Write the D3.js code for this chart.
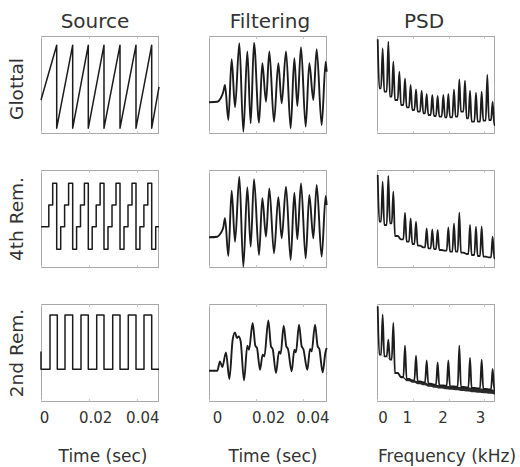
<!DOCTYPE html>
<html><head><meta charset="utf-8">
<script src="https://cdn.jsdelivr.net/npm/d3@7"></script>
<style>
html,body{margin:0;padding:0;background:#fff;}
svg{display:block;}
</style></head><body>
<svg id="chart" width="520" height="467"></svg>
<script>
// ---------------- DATA ----------------
const columnTitles = ["Source", "Filtering", "PSD"];
const rowLabels = ["Glottal", "4th Rem.", "2nd Rem."];
const xAxisTitles = ["Time (sec)", "Time (sec)", "Frequency (kHz)"];
const timeTicks = [0, 0.02, 0.04];
const timeTickLabels = ["0", "0.02", "0.04"];
const freqTicks = [0, 1, 2, 3];
const freqTickLabels = ["0", "1", "2", "3"];

// Source signals (time in s, amplitude normalised to [-1, 1])
const glottalT = [0, 0.00652, 0.00652, 0.01316, 0.01316, 0.01964, 0.01964, 0.02616, 0.02616, 0.03281, 0.03281, 0.03945, 0.03945, 0.04597, 0.04597, 0.049];
const glottalV = [-0.32, 0.81, -0.90, 0.81, -0.90, 0.81, -0.90, 0.81, -0.90, 0.81, -0.90, 0.81, -0.90, 0.81, -0.90, -0.05];

const rem4T = [0, 0.00324, 0.00486, 0.00652, 0.00818, 0.00980, 0.01146, 0.01316, 0.01478, 0.01640, 0.01802, 0.01964, 0.02126, 0.02292, 0.02454, 0.02616, 0.02782, 0.02949, 0.03115, 0.03281, 0.03447, 0.03613, 0.03779, 0.03945, 0.04107, 0.04273, 0.04435, 0.04597, 0.04763, 0.049];
const rem4V = [-0.169, 0.278, 0.726, -0.635, -0.169, 0.278, 0.726, -0.635, -0.169, 0.278, 0.726, -0.635, -0.169, 0.278, 0.726, -0.635, -0.169, 0.278, 0.726, -0.635, -0.169, 0.278, 0.726, -0.635, -0.169, 0.278, 0.726, -0.635, -0.169, -0.169];

const rem2T = [0, 0, 0.00374, 0.00677, 0.00997, 0.01316, 0.01661, 0.01964, 0.02313, 0.02616, 0.02978, 0.03281, 0.03625, 0.03945, 0.04277, 0.04597, 0.049];
const rem2V = [0.02, -0.346, 0.773, -0.346, 0.773, -0.346, 0.773, -0.346, 0.773, -0.346, 0.773, -0.346, 0.773, -0.346, 0.773, -0.346, -0.346];

// Filtered signals
const filterT = [0, 0.00353, 0.00494, 0.00607, 0.00678, 0.00819, 0.00960, 0.01102, 0.01285, 0.01455, 0.01624, 0.01766, 0.01907, 0.02119, 0.02260, 0.02415, 0.02556, 0.02754, 0.02938, 0.03079, 0.03263, 0.03460, 0.03616, 0.03743, 0.03898, 0.04096, 0.04251, 0.04421, 0.04562, 0.04774, 0.04944, 0.04986];
const filterGlottal = [-0.367, -0.355, -0.285, -0.148, -0.010, -0.732, 0.520, -0.470, 0.850, -0.973, 0.680, -0.800, 0.860, -0.787, 0.437, -0.355, 0.680, -0.767, 0.437, -0.388, 0.680, -0.903, 0.540, -0.443, 0.767, -0.870, 0.437, -0.320, 0.726, -0.835, 0.470, 0.264];
const filter4th = [-0.388, -0.375, -0.306, -0.182, 0.004, -0.773, 0.574, -0.478, 0.862, -0.993, 0.643, -0.581, 0.808, -0.753, 0.416, -0.375, 0.622, -0.718, 0.437, -0.409, 0.656, -0.856, 0.532, -0.429, 0.725, -0.821, 0.485, -0.409, 0.691, -0.787, 0.464, 0.278];

const filter2ndT = [0, 0.00353, 0.00466, 0.00565, 0.00720, 0.00862, 0.01003, 0.01102, 0.01186, 0.01257, 0.01342, 0.01483, 0.01624, 0.01695, 0.01850, 0.01963, 0.02034, 0.02161, 0.02274, 0.02345, 0.02514, 0.02627, 0.02698, 0.02839, 0.02966, 0.03037, 0.03164, 0.03277, 0.03347, 0.03503, 0.03616, 0.03686, 0.03814, 0.03927, 0.03997, 0.04167, 0.04280, 0.04350, 0.04492, 0.04605, 0.04675, 0.04816, 0.04929, 0.04986];
const filter2nd = [-0.375, -0.375, -0.183, -0.300, 0.003, -0.547, 0.264, 0.415, 0.298, 0.333, 0.229, -0.575, 0.140, 0.058, 0.608, 0.140, 0.092, -0.355, -0.045, -0.080, 0.662, 0.126, 0.072, -0.423, 0.023, -0.025, 0.553, 0.126, 0.072, -0.389, 0.058, 0.003, 0.573, 0.126, 0.072, -0.355, 0.072, 0.023, 0.573, 0.126, 0.072, -0.410, -0.011, 0.092];

// PSD: harmonic frequencies (kHz), peak levels (null = harmonic absent) and floor levels after each harmonic
const psdFreq = [0.02, 0.158, 0.317, 0.457, 0.625, 0.783, 0.941, 1.091, 1.249, 1.389, 1.547, 1.696, 1.855, 1.995, 2.153, 2.302, 2.461, 2.601, 2.768, 2.927, 3.085, 3.234];
const psdGlottalPeak = [0.931, 0.746, 0.883, 0.471, 0.265, 0.127, -0.010, -0.100, -0.127, -0.196, -0.216, -0.237, -0.216, -0.196, -0.100, 0.107, 0.079, -0.127, -0.168, -0.148, 0.196, -0.354];
const psdGlottalFloor = [-0.079, -0.148, -0.251, -0.320, -0.423, -0.471, -0.526, -0.560, -0.595, -0.629, -0.649, -0.663, -0.677, -0.677, -0.663, -0.560, -0.698, -0.766, -0.766, -0.746, -0.732, -0.835];
const psd4thPeak = [0.897, 0.759, 0.876, 0.553, null, 0.120, 0.003, -0.065, null, -0.203, -0.223, -0.237, null, -0.182, -0.100, 0.120, null, -0.134, -0.168, -0.168, null, -0.375];
const psd4thFloor = [-0.065, -0.134, -0.100, -0.361, -0.430, -0.478, -0.526, -0.560, -0.595, -0.615, -0.629, -0.649, -0.663, -0.684, -0.684, -0.704, -0.732, -0.753, -0.773, -0.787, -0.801, -0.821];
const psd2ndPeak = [0.952, 0.780, 0.265, 0.608, null, 0.141, null, -0.065, null, -0.162, null, -0.203, null, -0.162, null, 0.141, null, -0.113, null, -0.148, null, -0.340];
const psd2ndFloor = [-0.045, -0.079, -0.148, -0.423, -0.505, -0.546, -0.574, -0.595, -0.615, -0.643, -0.663, -0.677, -0.684, -0.698, -0.704, -0.711, -0.718, -0.732, -0.739, -0.753, -0.759, -0.766];
const psd2ndFloorLow = [-0.053, -0.088, -0.157, -0.445, -0.532, -0.591, -0.623, -0.653, -0.677, -0.705, -0.725, -0.744, -0.756, -0.770, -0.780, -0.792, -0.803, -0.817, -0.828, -0.842, -0.853, -0.865];

// ---------------- LAYOUT ----------------
const colX = [41, 209, 377], rowY = [36, 170, 304];
const W = 118, H = 97;
const FONT = "'DejaVu Sans', sans-serif";
const TEXT = "#333", INK = "#1c1c1c", FRAME = "#a8a8a8";

const svg = d3.select("#chart");

const sourceX = d3.scaleLinear().domain([0, 0.049]).range([0, W]);
const filterX = d3.scaleLinear().domain([0, 0.05]).range([0, W]);
const FMAX = 3.3;
const freqX = d3.scaleLinear().domain([0, FMAX]).range([0, W]);
const y = d3.scaleLinear().domain([-1, 1]).range([H, 0]);

const xScales = [sourceX, filterX, freqX];
const xTicks = [timeTicks, timeTicks, freqTicks];
const xLabels = [timeTickLabels, timeTickLabels, freqTickLabels];
const labelShift = [[3, 6, 5], [8, 12, 9], [5.5, -6, -6, -4.3]];

const zip = (a, b) => a.map((v, i) => [v, b[i]]);
const hw = 0.045;
function psdPoints(peaks, floors) {
  const pts = [];
  psdFreq.forEach((f, k) => {
    if (peaks[k] !== null) pts.push([f, peaks[k]]);
    const next = k < psdFreq.length - 1 ? psdFreq[k + 1] - hw : FMAX;
    pts.push([f + hw, floors[k]]);
    pts.push([next, floors[k]]);
  });
  return pts;
}
function bandPoints(up, low) {
  const pts = [];
  psdFreq.forEach((f, k) => {
    const next = k < psdFreq.length - 1 ? psdFreq[k + 1] - hw : FMAX;
    pts.push([f + hw, up[k], low[k]]);
    pts.push([next, up[k], low[k]]);
  });
  return pts;
}

const series = [
  [ {pts: zip(glottalT, glottalV), curve: d3.curveLinear, w: 1.5},
    {pts: zip(filterT, filterGlottal), curve: d3.curveMonotoneX, w: 1.9},
    {pts: psdPoints(psdGlottalPeak, psdGlottalFloor), curve: d3.curveMonotoneX, w: 1.8} ],
  [ {pts: zip(rem4T, rem4V), curve: d3.curveStepAfter, w: 1.5},
    {pts: zip(filterT, filter4th), curve: d3.curveMonotoneX, w: 1.9},
    {pts: psdPoints(psd4thPeak, psd4thFloor), curve: d3.curveMonotoneX, w: 1.8} ],
  [ {pts: zip(rem2T, rem2V), curve: d3.curveStepAfter, w: 1.5},
    {pts: zip(filter2ndT, filter2nd), curve: d3.curveMonotoneX, w: 1.9},
    {pts: psdPoints(psd2ndPeak, psd2ndFloor), curve: d3.curveMonotoneX, w: 1.8,
     band: bandPoints(psd2ndFloor, psd2ndFloorLow)} ]
];

for (let r = 0; r < 3; r++) {
  for (let c = 0; c < 3; c++) {
    const g = svg.append("g").attr("transform", `translate(${colX[c]},${rowY[r]})`);
    const xs = xScales[c];
    g.append("rect").attr("x", 0.5).attr("y", 0.5).attr("width", W - 1).attr("height", H)
      .attr("fill", "none").attr("stroke", FRAME).attr("stroke-width", 1);
    xTicks[c].forEach(t => {
      const px = Math.round(xs(t)) + 0.5;
      g.append("line").attr("x1", px).attr("x2", px).attr("y1", 0.5).attr("y2", 3)
        .attr("stroke", "#c8c8c8");
      g.append("line").attr("x1", px).attr("x2", px).attr("y1", H - 2).attr("y2", H + 0.5)
        .attr("stroke", "#c8c8c8");
    });
    const s = series[r][c];
    if (s.band) {
      const area = d3.area().x(d => xs(d[0])).y0(d => y(d[2])).y1(d => y(d[1])).curve(d3.curveMonotoneX);
      g.append("path").attr("d", area(s.band)).attr("fill", "#2a2a2a");
    }
    const line = d3.line().x(d => xs(d[0])).y(d => y(d[1])).curve(s.curve);
    g.append("path").attr("d", line(s.pts)).attr("fill", "none")
      .attr("stroke", INK).attr("stroke-width", s.w).attr("stroke-linejoin", "round");
  }
}

const titleCX = [95, 270, 424];
columnTitles.forEach((t, i) => {
  svg.append("text").attr("x", titleCX[i]).attr("y", 28).attr("text-anchor", "middle")
    .attr("font-family", FONT).attr("font-size", 20).attr("fill", TEXT).text(t);
});
const rowCY = [89, 219, 353];
rowLabels.forEach((t, i) => {
  svg.append("text").attr("transform", `translate(23,${rowCY[i]}) rotate(-90)`)
    .attr("text-anchor", "middle").attr("font-family", FONT).attr("font-size", 18.5)
    .attr("fill", TEXT).text(t);
});
for (let c = 0; c < 3; c++) {
  const ax = d3.axisBottom(xScales[c]).tickValues(xTicks[c])
    .tickFormat((d, i) => xLabels[c][i]).tickSize(0).tickPadding(11.5);
  const g = svg.append("g").attr("transform", `translate(${colX[c]},${rowY[2] + H})`).call(ax);
  g.select(".domain").remove();
  g.selectAll("text").attr("font-family", FONT).attr("font-size", 15).attr("fill", TEXT)
    .attr("dx", (d, i) => labelShift[c][i]);
}
const axisTitleCX = [103, 273, 447];
xAxisTitles.forEach((t, i) => {
  svg.append("text").attr("x", axisTitleCX[i]).attr("y", 462).attr("text-anchor", "middle")
    .attr("font-family", FONT).attr("font-size", 17).attr("fill", TEXT).text(t);
});
</script>
</body></html>
